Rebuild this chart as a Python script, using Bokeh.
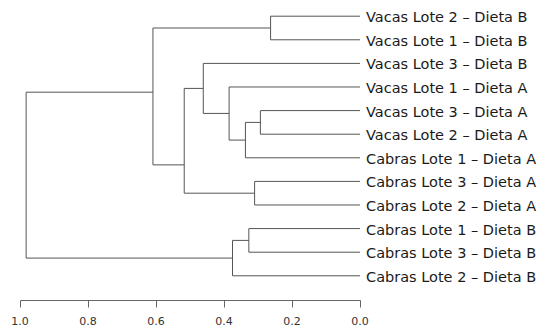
from bokeh.plotting import figure
from bokeh.models import ColumnDataSource, Range1d, FixedTicker, NumeralTickFormatter
from bokeh.core.properties import value
from bokeh.embed import file_html
from bokeh.resources import INLINE

# Leaves in display order (top to bottom)
leaf_labels = [
    "Vacas Lote 2 – Dieta B",
    "Vacas Lote 1 – Dieta B",
    "Vacas Lote 3 – Dieta B",
    "Vacas Lote 1 – Dieta A",
    "Vacas Lote 3 – Dieta A",
    "Vacas Lote 2 – Dieta A",
    "Cabras Lote 1 – Dieta A",
    "Cabras Lote 3 – Dieta A",
    "Cabras Lote 2 – Dieta A",
    "Cabras Lote 1 – Dieta B",
    "Cabras Lote 3 – Dieta B",
    "Cabras Lote 2 – Dieta B",
]

# Merges: node ids 0..11 are leaves, merge k gets id 12+k
merge_left = [0, 4, 7, 9, 13, 15, 3, 2, 19, 12, 21]
merge_right = [1, 5, 8, 10, 6, 11, 16, 18, 14, 20, 17]
merge_height = [0.263, 0.293, 0.310, 0.327, 0.337, 0.375, 0.385, 0.461, 0.517, 0.609, 0.982]
# join position of each merge along the leaf axis (leaf index units)
merge_pos = [0.5, 4.5, 7.5, 9.5, 5.25, 10.25, 4.12, 3.06, 6.3, 3.22, 6.7]

axis_ticks = [0.0, 0.2, 0.4, 0.6, 0.8, 1.0]

n = len(leaf_labels)
node_h = [0.0] * n + list(merge_height)
node_y = list(range(n)) + list(merge_pos)

x0, y0, x1, y1 = [], [], [], []
for k in range(len(merge_left)):
    h = merge_height[k]
    l, r = merge_left[k], merge_right[k]
    # vertical
    x0.append(h); y0.append(node_y[l]); x1.append(h); y1.append(node_y[r])
    # horizontals to children
    for c in (l, r):
        x0.append(node_h[c]); y0.append(node_y[c]); x1.append(h); y1.append(node_y[c])

seg = ColumnDataSource(dict(x0=x0, y0=y0, x1=x1, y1=y1))
lab = ColumnDataSource(dict(x=[0.0] * n, y=list(range(n)), t=leaf_labels))

p = figure(width=538, height=329, output_backend="svg", toolbar_location=None,
           x_range=Range1d(1.0574, -0.525), y_range=Range1d(12.047, -0.665),
           min_border=0, min_border_left=0, min_border_right=0, min_border_top=0,
           min_border_bottom=29)
p.outline_line_color = None
p.xgrid.visible = False
p.ygrid.visible = False
p.yaxis.visible = False
p.background_fill_color = "white"
p.border_fill_color = "white"

p.segment(x0="x0", y0="y0", x1="x1", y1="y1", source=seg,
          line_color="#555555", line_width=1)

p.text(x="x", y="y", text="t", source=lab, x_offset=6, y_offset=1,
       text_baseline="middle", text_align="left",
       text_font=value("DejaVu Sans"), text_font_size="14.5px", text_color="#1a1a1a")

ax = p.xaxis[0]
ax.ticker = FixedTicker(ticks=axis_ticks)
ax.formatter = NumeralTickFormatter(format="0.0")
ax.bounds = (0, 1)
ax.axis_line_color = "#666666"
ax.major_tick_line_color = "#666666"
ax.minor_tick_line_color = None
ax.major_tick_out = 7
ax.major_tick_in = 0
ax.major_label_standoff = 9
ax.major_label_text_font = "DejaVu Sans"
ax.major_label_text_font_size = "11px"
ax.major_label_text_color = "#333333"

open("out.html", "w").write(file_html(p, INLINE))
